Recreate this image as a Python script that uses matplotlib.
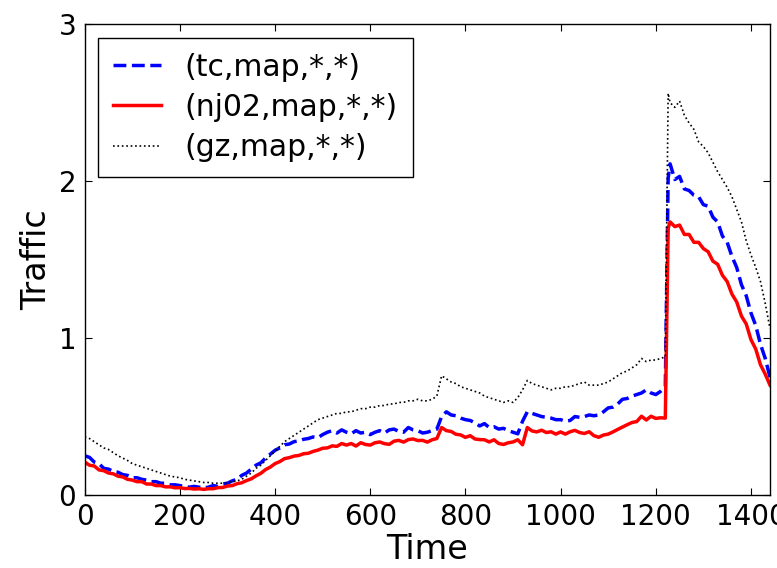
import matplotlib
matplotlib.use("Agg")
import matplotlib.pyplot as plt

# time stamps (minutes); a sample at 1226 marks the sharp jump
time = list(range(0, 1230, 10)) + [1226] + list(range(1230, 1450, 10))

# (tc,map,*,*)
tc = [0.25, 0.24, 0.21, 0.20, 0.17, 0.165, 0.15, 0.145, 0.13, 0.125,
      0.11, 0.11, 0.10, 0.095, 0.085, 0.085, 0.075, 0.075, 0.065, 0.065,
      0.06, 0.055, 0.05, 0.055, 0.05, 0.045, 0.05, 0.06, 0.055, 0.07,
      0.075, 0.09, 0.10, 0.125, 0.14, 0.165, 0.19, 0.205, 0.235, 0.26,
      0.285, 0.30, 0.32, 0.325, 0.34, 0.345, 0.355, 0.36, 0.37, 0.365,
      0.385, 0.40, 0.41, 0.395, 0.415, 0.40, 0.39, 0.41, 0.395, 0.40,
      0.385, 0.40, 0.41, 0.395, 0.415, 0.42, 0.405, 0.40, 0.43, 0.415,
      0.41, 0.395, 0.40, 0.41, 0.42, 0.50, 0.53, 0.51, 0.505, 0.49,
      0.48, 0.475, 0.46, 0.44, 0.455, 0.43, 0.435, 0.42, 0.425, 0.41,
      0.40, 0.39, 0.47, 0.53, 0.52, 0.51, 0.50, 0.495, 0.49, 0.48,
      0.48, 0.47, 0.475, 0.50, 0.495, 0.50, 0.51, 0.505, 0.51, 0.53,
      0.555, 0.56, 0.58, 0.61, 0.615, 0.63, 0.64, 0.65, 0.67, 0.65,
      0.64, 0.66, 0.69,
      2.02,
      2.11, 2.01, 2.03, 1.95, 1.94, 1.91, 1.90, 1.85, 1.84, 1.77,
      1.74, 1.65, 1.61, 1.52, 1.45, 1.34, 1.27, 1.16, 1.08, 0.96,
      0.87, 0.75]

# (nj02,map,*,*)
nj02 = [0.21, 0.19, 0.185, 0.16, 0.155, 0.14, 0.135, 0.12, 0.115, 0.10,
        0.095, 0.085, 0.085, 0.07, 0.07, 0.06, 0.06, 0.052, 0.052, 0.046,
        0.047, 0.041, 0.042, 0.038, 0.04, 0.036, 0.04, 0.04, 0.047, 0.048,
        0.057, 0.06, 0.072, 0.078, 0.092, 0.103, 0.122, 0.138, 0.162, 0.178,
        0.20, 0.213, 0.232, 0.238, 0.248, 0.252, 0.263, 0.266, 0.278, 0.286,
        0.298, 0.30, 0.313, 0.31, 0.328, 0.318, 0.328, 0.312, 0.333, 0.322,
        0.318, 0.333, 0.338, 0.327, 0.323, 0.343, 0.348, 0.337, 0.353, 0.357,
        0.347, 0.348, 0.337, 0.352, 0.36, 0.43, 0.41, 0.405, 0.387, 0.383,
        0.367, 0.378, 0.357, 0.353, 0.352, 0.338, 0.352, 0.328, 0.322, 0.333,
        0.338, 0.352, 0.32, 0.43, 0.408, 0.402, 0.413, 0.398, 0.403, 0.388,
        0.402, 0.388, 0.403, 0.412, 0.398, 0.392, 0.403, 0.378, 0.368, 0.382,
        0.388, 0.402, 0.418, 0.433, 0.448, 0.462, 0.468, 0.502, 0.478, 0.502,
        0.488, 0.492, 0.49,
        1.70,
        1.74, 1.71, 1.72, 1.66, 1.66, 1.61, 1.61, 1.57, 1.55, 1.49,
        1.47, 1.40, 1.36, 1.28, 1.23, 1.14, 1.09, 0.99, 0.93, 0.83,
        0.77, 0.70]

# (gz,map,*,*)
gz = [0.37, 0.36, 0.34, 0.32, 0.30, 0.29, 0.27, 0.25, 0.235, 0.22,
      0.20, 0.19, 0.18, 0.17, 0.16, 0.15, 0.14, 0.13, 0.12, 0.115,
      0.11, 0.10, 0.095, 0.09, 0.085, 0.08, 0.08, 0.075, 0.075, 0.075,
      0.08, 0.085, 0.09, 0.10, 0.12, 0.14, 0.17, 0.19, 0.22, 0.25,
      0.28, 0.31, 0.34, 0.36, 0.38, 0.40, 0.42, 0.44, 0.46, 0.48,
      0.49, 0.50, 0.51, 0.52, 0.52, 0.53, 0.53, 0.54, 0.55, 0.55,
      0.56, 0.56, 0.57, 0.57, 0.58, 0.58, 0.59, 0.59, 0.60, 0.60,
      0.61, 0.60, 0.60, 0.61, 0.63, 0.76, 0.74, 0.72, 0.71, 0.69,
      0.68, 0.67, 0.66, 0.65, 0.63, 0.62, 0.61, 0.60, 0.59, 0.60,
      0.59, 0.62, 0.67, 0.73, 0.71, 0.70, 0.69, 0.68, 0.67, 0.68,
      0.68, 0.69, 0.69, 0.70, 0.71, 0.72, 0.70, 0.70, 0.70, 0.71,
      0.72, 0.74, 0.76, 0.78, 0.79, 0.81, 0.83, 0.87, 0.85, 0.86,
      0.86, 0.87, 0.88,
      2.56,
      2.50, 2.47, 2.51, 2.42, 2.37, 2.33, 2.25, 2.22, 2.18, 2.12,
      2.06, 2.01, 1.96, 1.90, 1.82, 1.74, 1.62, 1.53, 1.45, 1.36,
      1.22, 1.06]

fig = plt.figure(figsize=(7.77, 5.68), dpi=100)
ax = fig.add_axes([0.109, 0.1285, 0.882, 0.829])

ax.plot(time, tc, color='blue', linestyle='--', linewidth=2.5, label='(tc,map,*,*)')
ax.plot(time, nj02, color='red', linestyle='-', linewidth=2.5, label='(nj02,map,*,*)')
ax.plot(time, gz, color='black', linestyle=':', linewidth=1.2, label='(gz,map,*,*)')

ax.set_xlim(0, 1440)
ax.set_ylim(0, 3)
ax.set_xticks([0, 200, 400, 600, 800, 1000, 1200, 1400])
ax.set_yticks([0, 1, 2, 3])
ax.tick_params(direction='in', top=True, right=True, labelsize=20, length=5, pad=6)
for s in ax.spines.values():
    s.set_linewidth(1.0)

ax.set_xlabel('Time', fontsize=24, labelpad=1)
ax.set_ylabel('Traffic', fontsize=24, labelpad=4)

leg = ax.legend(loc='upper left', fontsize=21.5, fancybox=False, edgecolor='black',
                framealpha=1, handlelength=1.6, borderaxespad=0.45, labelspacing=0.38,
                borderpad=0.5)
leg.get_frame().set_linewidth(1.0)

fig.savefig('out.png', dpi=100)
